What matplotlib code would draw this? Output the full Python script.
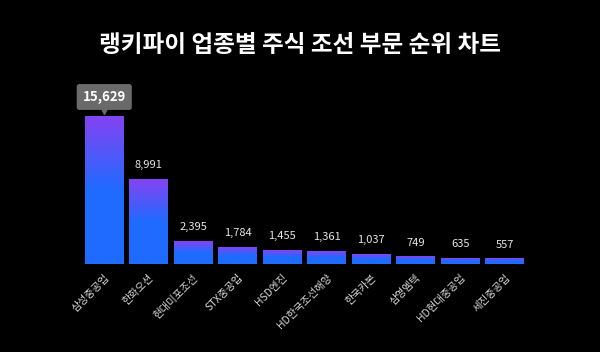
import numpy as np
import matplotlib
matplotlib.use("Agg")
from matplotlib import pyplot as plt
from matplotlib import transforms
from matplotlib.colors import to_rgb

plt.rcParams['font.family'] = ['Noto Sans CJK KR', 'DejaVu Sans']

# data
companies = ['삼성중공업', '한화오션', '현대미포조선', 'STX중공업', 'HSD엔진',
             'HD한국조선해양', '한국카본', '삼영엠텍', 'HD현대중공업', '세진중공업']
values = [15629, 8991, 2395, 1784, 1455, 1361, 1037, 749, 635, 557]
title = '랭키파이 업종별 주식 조선 부문 순위 차트'

purple = np.array(to_rgb('#8443f2'))
blue = np.array(to_rgb('#1f6bff'))

fig = plt.figure(figsize=(6, 3.52), dpi=100, facecolor='black')
ax = fig.add_axes([82/600, (352-264)/352, 445/600, 184/352])
ax.set_facecolor('black')

ymax = 19560
bw = 0.87
for i, v in enumerate(values):
    # vertical gradient: purple at top, blue from the middle down
    t = np.linspace(0, 1, 200)[:, None]  # 0 = top
    k = np.clip(t / 0.5, 0, 1)
    grad = (1 - k)[..., None] * purple + k[..., None] * blue
    grad = np.repeat(grad, 2, axis=1)
    ax.imshow(grad, extent=[i - bw/2, i + bw/2, 0, v], aspect='auto',
              interpolation='bilinear', zorder=2)
    if i == 0:
        continue
    ax.text(i, v, f'{v:,}', ha='center', va='bottom', color='#e6e6e6',
            fontsize=8, transform=transforms.offset_copy(ax.transData, fig, 0, 9, units='dots'))

# tooltip on the top bar
tip_tr = transforms.offset_copy(ax.transData, fig, 0, 20, units='dots')
ax.text(0, values[0], f'{values[0]:,}', ha='center', va='center', color='white',
        fontsize=9.5, fontweight='bold', transform=tip_tr, zorder=5,
        bbox=dict(boxstyle='round,pad=0.45,rounding_size=0.2', fc='#6a6a6a', ec='none'))
ax.plot([0], [values[0]], marker='v', color='#6a6a6a', markersize=5,
        transform=transforms.offset_copy(ax.transData, fig, 0, 6, units='dots'), zorder=5)

ax.axhline(0, color='#9dbbff', lw=0.8, ls=(0, (2, 2)), zorder=3)

ax.set_xlim(-0.5, len(values) - 0.5)
ax.set_ylim(0, ymax)
ax.set_xticks(range(len(values)))
ax.set_xticklabels(companies, rotation=45, ha='right', rotation_mode='anchor',
                   color='#d9d9d9', fontsize=7.5)
ax.tick_params(axis='x', length=0, pad=6)
ax.set_yticks([])
for s in ax.spines.values():
    s.set_visible(False)

fig.text(0.5, 1 - 45/352, title, ha='center', va='center', color='white',
         fontsize=17, fontweight='bold')

fig.savefig('out.png', dpi=100, facecolor='black')
